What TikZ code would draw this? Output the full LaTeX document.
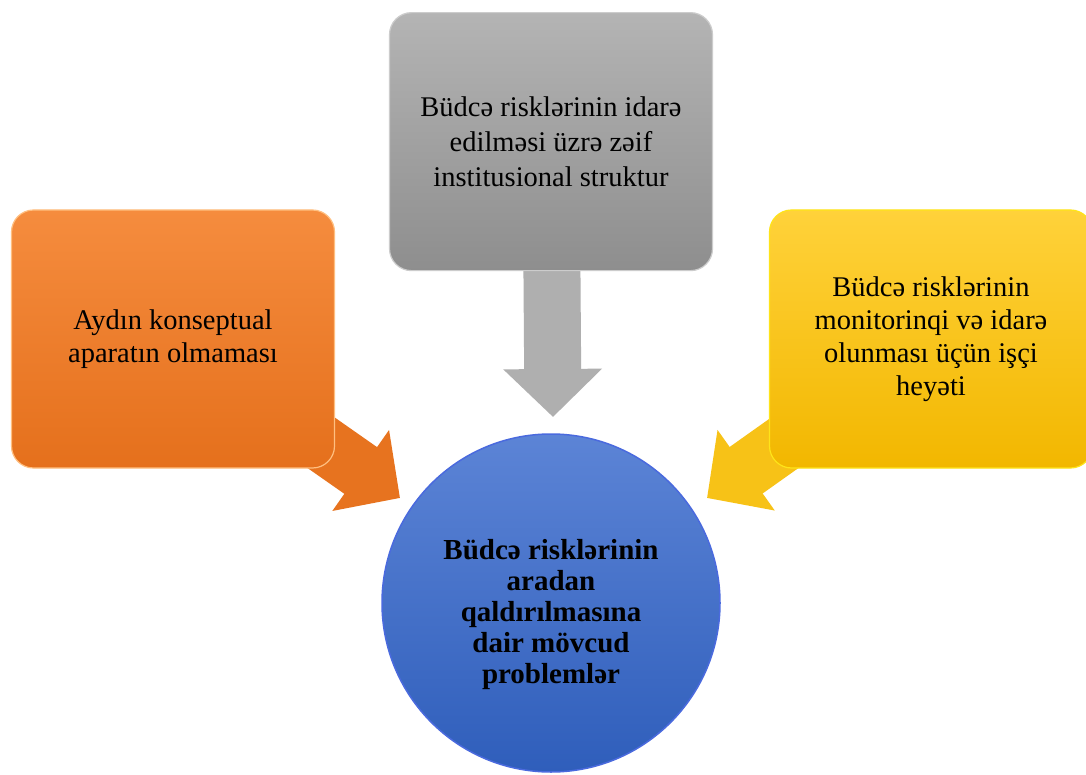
\documentclass[tikz,border=0pt]{standalone}
\usepackage{fontspec}
\setmainfont{Liberation Serif}
\usetikzlibrary{positioning, arrows.meta, backgrounds}
\definecolor{grayTop}{HTML}{B4B4B4}
\definecolor{grayBot}{HTML}{8E8E8E}
\definecolor{orangeTop}{HTML}{F58C3E}
\definecolor{orangeBot}{HTML}{E5701C}
\definecolor{goldTop}{HTML}{FFD23A}
\definecolor{goldBot}{HTML}{F2B700}
\definecolor{blueTop}{HTML}{5C84D6}
\definecolor{blueBot}{HTML}{2F5EBB}
\tikzset{ProblemBox/.style={%
    shape=rectangle,%
    rounded corners=22pt,%
    minimum width=323pt,%
    minimum height=258pt,%
    line width=1.2pt,%
    align=center,%
    font=\fontsize{28.5}{33}\selectfont,%
}}
\tikzset{CenterCircle/.style={%
    shape=circle,%
    minimum size=338pt,%
    top color=blueTop,%
    bottom color=blueBot,%
    draw=blue!20!blueTop,%
    line width=1.5pt,%
}}
\tikzset{CenterText/.style={%
    align=center,%
    font=\fontsize{29}{31}\selectfont\bfseries,%
}}
\tikzset{BlockArrow/.style={%
    -{Triangle[length=48pt,width=96pt]},%
    line width=57pt,%
}}

\begin{document}
\begin{tikzpicture}[x=1pt,y=1pt]
    \useasboundingbox (0,0) rectangle (1086,-775);
    \node[CenterCircle] (pCenter) at (551,-603) {};
    \node[CenterText] (pCenterText) at ([yshift=-12pt]pCenter.center) {Büdcə risklərinin\\aradan\\qaldırılmasına\\dair mövcud\\problemlər};
    \node[ProblemBox, top color=grayTop, bottom color=grayBot, draw=gray!40, font=\fontsize{28.5}{35}\selectfont, above=162pt of pCenter] (pInst) {Büdcə risklərinin idarə\\edilməsi üzrə zəif\\institusional struktur};
    \node[ProblemBox, top color=orangeTop, bottom color=orangeBot, draw=orange!50!white] (pConcept) at (173,-339) {Aydın konseptual\\aparatın olmaması};
    \node[ProblemBox, top color=goldTop, bottom color=goldBot, draw=yellow!60!goldTop] (pStaff) at (931,-339) {Büdcə risklərinin\\monitorinqi və idarə\\olunması üçün işçi\\heyəti};

    \coordinate (tInst) at (553,-417);
    \coordinate (tConcept) at (400,-498);
    \coordinate (tStaff) at (707,-498);

    \begin{scope}[on background layer]
        \fill[white] (0,0) rectangle (1086,-775);
        \draw[BlockArrow, draw=grayTop!90!gray] (pInst.center) -- (tInst);
        \draw[BlockArrow, draw=orangeBot!90!orangeTop] (pConcept.center) -- (tConcept);
        \draw[BlockArrow, draw=goldBot!60!goldTop] (pStaff.center) -- (tStaff);
    \end{scope}
\end{tikzpicture}
\end{document}
